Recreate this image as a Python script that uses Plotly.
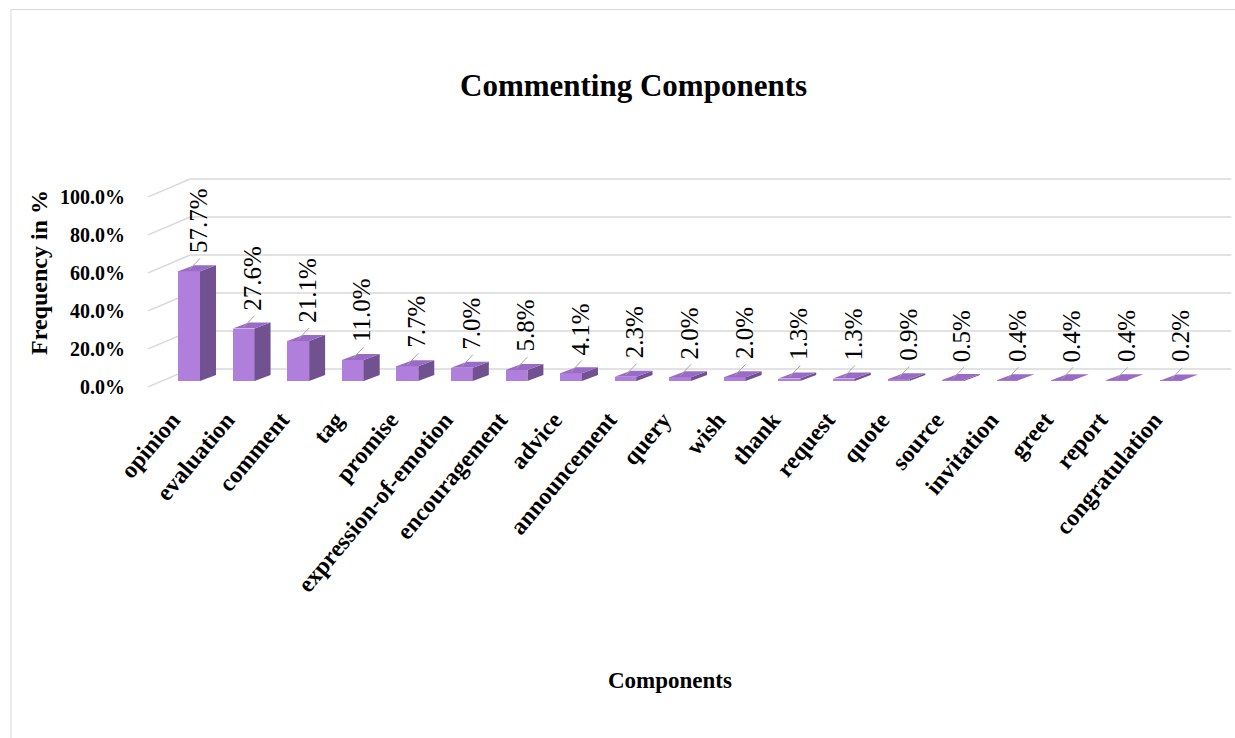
import plotly.graph_objects as go

categories = ["opinion", "evaluation", "comment", "tag", "promise", "expression-of-emotion",
              "encouragement", "advice", "announcement", "query", "wish", "thank", "request",
              "quote", "source", "invitation", "greet", "report", "congratulation"]
values = [57.7, 27.6, 21.1, 11.0, 7.7, 7.0, 5.8, 4.1, 2.3, 2.0, 2.0, 1.3, 1.3, 0.9, 0.5, 0.4, 0.4, 0.4, 0.2]
y_tick_values = [0, 20, 40, 60, 80, 100]
y_tick_labels = ["0.0%", "20.0%", "40.0%", "60.0%", "80.0%", "100.0%"]

FONT = "Liberation Serif"
W, H = 1235, 738
ML, MR, MT, MB = 140, 1, 165, 346
PW, PH = W - ML - MR, H - MT - MB
PX_PER_PCT = 1.9
BASE_PX = 381          # pixel row of the bars' front base

X_RANGE = [-0.9, 19.15]
Y_RANGE = [-(H - MB - BASE_PX) / PX_PER_PCT, (BASE_PX - MT) / PX_PER_PCT]
LABEL_SHIFT = 3.1      # tick labels sit slightly in front of the bar base
BAR_W = 0.4
DEPTH_X = 0.293        # 3D depth offset (category units)
DEPTH_Y = 3.16         # 3D depth offset (% units)
WALL_X0, WALL_X1 = 0.02, 19.1
WALL_DY = 6.3
FRONT_X = -0.75

C_FRONT = "#b07fdb"
C_TOP = "#9a6bc6"
C_SIDE = "#71518f"
GRID = "#d9d9d9"


def px_x(px):
    return (px - ML) / PW


def px_y(py):
    return (H - MB - py) / PH


fig = go.Figure()

xs = list(range(len(categories)))
fig.add_trace(go.Bar(x=xs, y=values, width=BAR_W, marker=dict(color=C_FRONT, line=dict(width=0)),
                     hoverinfo="skip", showlegend=False))

for i, v in zip(xs, values):
    r = i + BAR_W / 2
    l = i - BAR_W / 2
    fig.add_trace(go.Scatter(
        x=[r, r + DEPTH_X, r + DEPTH_X, r, r],
        y=[0, DEPTH_Y, v + DEPTH_Y, v, 0],
        fill="toself", fillcolor=C_SIDE, mode="lines", line=dict(width=0, color=C_SIDE),
        hoverinfo="skip", showlegend=False))
    fig.add_trace(go.Scatter(
        x=[l, r, r + DEPTH_X, l + DEPTH_X, l],
        y=[v, v, v + DEPTH_Y, v + DEPTH_Y, v],
        fill="toself", fillcolor=C_TOP, mode="lines", line=dict(width=0, color=C_TOP),
        hoverinfo="skip", showlegend=False))
    fig.add_trace(go.Scatter(
        x=[i, i + 0.2], y=[v + 0.8, v + 6.8], mode="lines",
        line=dict(color="#a6a6a6", width=1), hoverinfo="skip", showlegend=False))

shapes = []
for t in y_tick_values:
    shapes.append(dict(type="line", xref="x", yref="y", x0=WALL_X0, x1=WALL_X1,
                       y0=t + WALL_DY, y1=t + WALL_DY, line=dict(color=GRID, width=1.5), layer="below"))
    shapes.append(dict(type="line", xref="x", yref="y", x0=FRONT_X, x1=WALL_X0,
                       y0=t - LABEL_SHIFT, y1=t + WALL_DY, line=dict(color=GRID, width=1.5), layer="below"))
shapes.append(dict(type="rect", xref="paper", yref="paper", x0=px_x(11), x1=px_x(1260),
                   y0=px_y(760), y1=px_y(9.5), line=dict(color="#d9d9d9", width=1), layer="below"))

annotations = []
for i, v in zip(xs, values):
    annotations.append(dict(x=i + 0.17, y=v + 8.5, xref="x", yref="y", text=f"{v:.1f}%",
                            textangle=-90, showarrow=False, xanchor="center", yanchor="bottom",
                            font=dict(family=FONT, size=25, color="#000000")))
annotations.append(dict(x=px_x(633), y=px_y(86), xref="paper", yref="paper",
                        text="<b>Commenting Components</b>", showarrow=False,
                        xanchor="center", yanchor="middle",
                        font=dict(family=FONT, size=31, color="#000000")))
annotations.append(dict(x=px_x(670), y=px_y(680), xref="paper", yref="paper",
                        text="<b>Components</b>", showarrow=False,
                        xanchor="center", yanchor="middle",
                        font=dict(family=FONT, size=23, color="#000000")))
annotations.append(dict(x=px_x(39), y=px_y(273), xref="paper", yref="paper",
                        text="<b>Frequency in %</b>", showarrow=False, textangle=-90,
                        xanchor="center", yanchor="middle",
                        font=dict(family=FONT, size=24, color="#000000")))

fig.update_layout(
    width=W, height=H,
    margin=dict(l=ML, r=MR, t=MT, b=MB, autoexpand=False),
    paper_bgcolor="white", plot_bgcolor="rgba(0,0,0,0)",
    showlegend=False, bargap=0,
    shapes=shapes, annotations=annotations,
    xaxis=dict(range=X_RANGE, tickvals=xs, ticktext=categories, tickangle=-50,
               showgrid=False, zeroline=False, showline=False,
               ticks="", ticklabelshift=-17, ticklabelstandoff=8,
               tickfont=dict(family=FONT, size=24, color="#000000", weight="bold"),
               fixedrange=True),
    yaxis=dict(range=Y_RANGE, showgrid=False, zeroline=False, showline=False,
               showticklabels=False, ticks="", fixedrange=True),
    yaxis2=dict(range=[Y_RANGE[0] + LABEL_SHIFT, Y_RANGE[1] + LABEL_SHIFT], overlaying="y", side="left",
                tickvals=y_tick_values, ticktext=y_tick_labels,
                showgrid=False, zeroline=False, showline=False,
                ticks="outside", ticklen=10, tickcolor="rgba(0,0,0,0)",
                tickfont=dict(family=FONT, size=20, color="#000000", weight="bold"),
                fixedrange=True),
)
fig.add_trace(go.Scatter(x=[0], y=[0], yaxis="y2", mode="markers", marker=dict(opacity=0),
                         hoverinfo="skip", showlegend=False))

fig.write_html("out.html")
